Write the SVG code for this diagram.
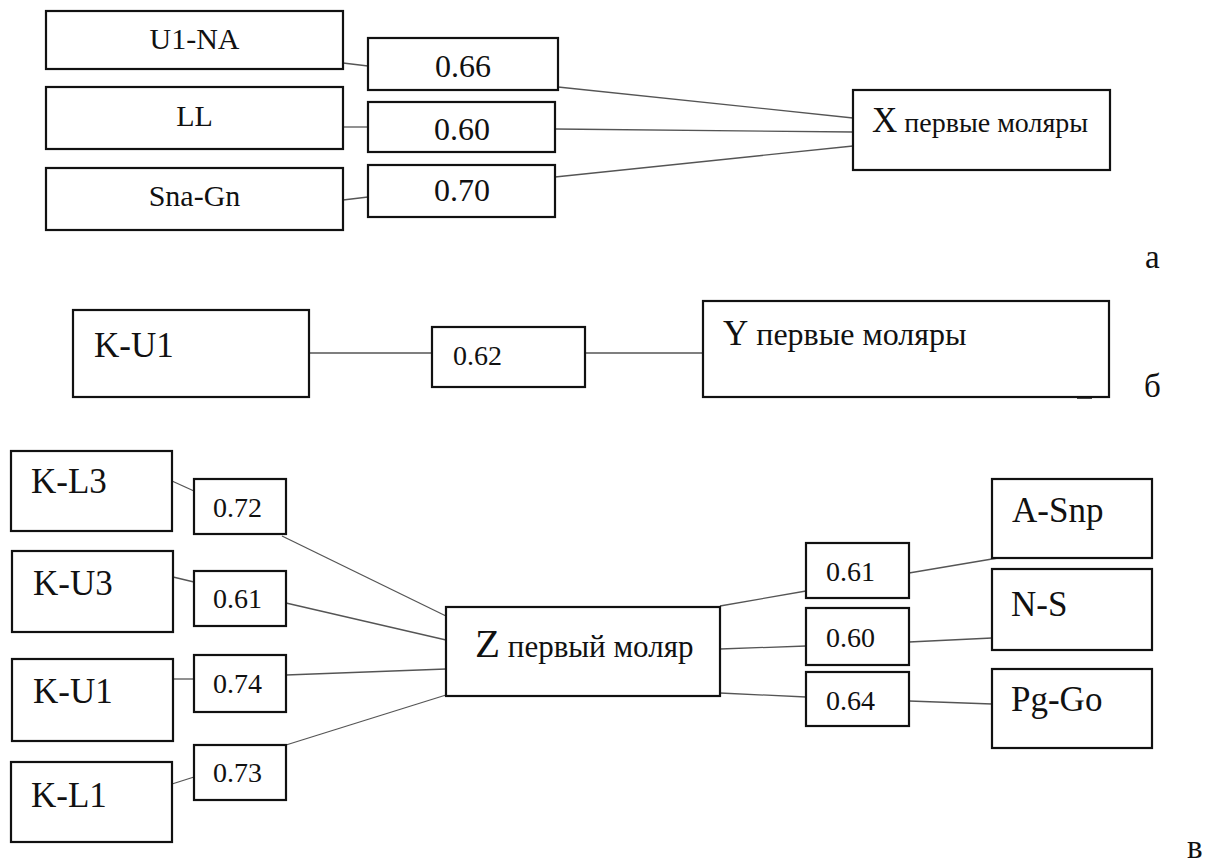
<svg xmlns="http://www.w3.org/2000/svg" width="1213" height="864" viewBox="0 0 1213 864">
<style>
.box{fill:#fff;stroke:#111;stroke-width:2.2}
.ln{stroke:#555;stroke-width:1.3;fill:none}
.t30{font-size:30px}
.n32{font-size:32px}
.n28{font-size:28px}
.k35{font-size:35px}
.lab{font-size:33px}
</style>
<rect width="1213" height="864" fill="#fff"/>
<g id="connectors">
<line class="ln" x1="343" y1="63" x2="368" y2="66"/>
<line class="ln" x1="343" y1="127" x2="368" y2="127"/>
<line class="ln" x1="343" y1="200" x2="368" y2="197"/>
<line class="ln" x1="558" y1="87" x2="853" y2="118"/>
<line class="ln" x1="555" y1="129" x2="853" y2="132"/>
<line class="ln" x1="555" y1="177" x2="853" y2="146"/>
<line class="ln" x1="309" y1="353" x2="432" y2="353"/>
<line class="ln" x1="585" y1="353" x2="703" y2="353"/>
<line class="ln" x1="172" y1="481" x2="194" y2="491"/>
<line class="ln" x1="173" y1="577" x2="194" y2="582"/>
<line class="ln" x1="173" y1="679" x2="194" y2="679"/>
<line class="ln" x1="172" y1="784" x2="194" y2="777"/>
<line class="ln" x1="282" y1="536" x2="446" y2="616"/>
<line class="ln" x1="286" y1="603" x2="446" y2="640"/>
<line class="ln" x1="286" y1="675" x2="446" y2="669"/>
<line class="ln" x1="286" y1="745" x2="446" y2="695"/>
<line class="ln" x1="720" y1="606" x2="806" y2="591"/>
<line class="ln" x1="720" y1="649" x2="806" y2="646"/>
<line class="ln" x1="720" y1="693" x2="806" y2="697"/>
<line class="ln" x1="909" y1="573" x2="998" y2="558"/>
<line class="ln" x1="909" y1="642" x2="992" y2="638"/>
<line class="ln" x1="909" y1="701" x2="992" y2="704"/>
</g>
<g font-family="Liberation Serif, Times New Roman, DejaVu Serif, Noto Serif, serif" fill="#111">
<g id="n-u1na"><rect class="box" x="46" y="11" width="297" height="58"/><text class="t30" x="194.5" y="49" text-anchor="middle">U1-NA</text></g>
<g id="n-ll"><rect class="box" x="46" y="87" width="297" height="62"/><text class="t30" x="194.5" y="126" text-anchor="middle">LL</text></g>
<g id="n-snagn"><rect class="box" x="46" y="168" width="297" height="62"/><text class="t30" x="194.5" y="206" text-anchor="middle">Sna-Gn</text></g>
<g id="c-066"><rect class="box" x="368" y="38" width="190" height="52"/><text class="n32" x="435" y="77">0.66</text></g>
<g id="c-060a"><rect class="box" x="368" y="102" width="187" height="50"/><text class="n32" x="434" y="140">0.60</text></g>
<g id="c-070"><rect class="box" x="368" y="165" width="187" height="52"/><text class="n32" x="434" y="201">0.70</text></g>
<g id="n-x"><rect class="box" x="853" y="90" width="257" height="80"/><text x="872" y="132"><tspan font-size="35">X</tspan><tspan font-size="28"> первые моляры</tspan></text></g>
<g id="label-a"><text class="lab" x="1145" y="268">а</text></g>
<g id="n-ku1b"><rect class="box" x="73" y="310" width="236" height="87"/><text class="k35" x="94" y="357">K-U1</text></g>
<g id="c-062"><rect class="box" x="432" y="327" width="153" height="60"/><text class="n28" x="453" y="365">0.62</text></g>
<g id="n-y"><rect class="box" x="703" y="301" width="406" height="96"/><line x1="1077" y1="397.5" x2="1092" y2="397.5" stroke="#111" stroke-width="2.5"/><text x="723" y="345"><tspan font-size="35">Y</tspan><tspan font-size="32"> первые моляры</tspan></text></g>
<g id="label-b"><text class="lab" x="1144" y="397">б</text></g>
<g id="n-kl3"><rect class="box" x="11" y="451" width="161" height="80"/><text class="k35" x="31" y="493">K-L3</text></g>
<g id="n-ku3"><rect class="box" x="12" y="551" width="161" height="81"/><text class="k35" x="33" y="595">K-U3</text></g>
<g id="n-ku1"><rect class="box" x="12" y="659" width="161" height="82"/><text class="k35" x="33" y="703">K-U1</text></g>
<g id="n-kl1"><rect class="box" x="11" y="762" width="161" height="80"/><text class="k35" x="31" y="807">K-L1</text></g>
<g id="c-072"><rect class="box" x="194" y="479" width="92" height="55"/><text class="n28" x="213" y="517">0.72</text></g>
<g id="c-061a"><rect class="box" x="194" y="571" width="92" height="55"/><text class="n28" x="213" y="608">0.61</text></g>
<g id="c-074"><rect class="box" x="194" y="655" width="92" height="57"/><text class="n28" x="213" y="693">0.74</text></g>
<g id="c-073"><rect class="box" x="194" y="745" width="92" height="55"/><text class="n28" x="213" y="782">0.73</text></g>
<g id="n-z"><rect class="box" x="446" y="607" width="274" height="89"/><text x="475" y="657"><tspan font-size="41">Z</tspan><tspan font-size="31"> первый моляр</tspan></text></g>
<g id="c-061b"><rect class="box" x="806" y="543" width="103" height="55"/><text class="n28" x="826" y="581">0.61</text></g>
<g id="c-060b"><rect class="box" x="806" y="608" width="103" height="57"/><text class="n28" x="826" y="647">0.60</text></g>
<g id="c-064"><rect class="box" x="806" y="672" width="103" height="54"/><text class="n28" x="826" y="710">0.64</text></g>
<g id="n-asnp"><rect class="box" x="992" y="479" width="160" height="79"/><text class="k35" x="1012" y="522">A-Snp</text></g>
<g id="n-ns"><rect class="box" x="992" y="569" width="160" height="81"/><text class="k35" x="1011" y="616">N-S</text></g>
<g id="n-pggo"><rect class="box" x="992" y="669" width="160" height="79"/><text class="k35" x="1011" y="711">Pg-Go</text></g>
<g id="label-c"><text class="lab" x="1187" y="858">в</text></g>
</g>
</svg>
